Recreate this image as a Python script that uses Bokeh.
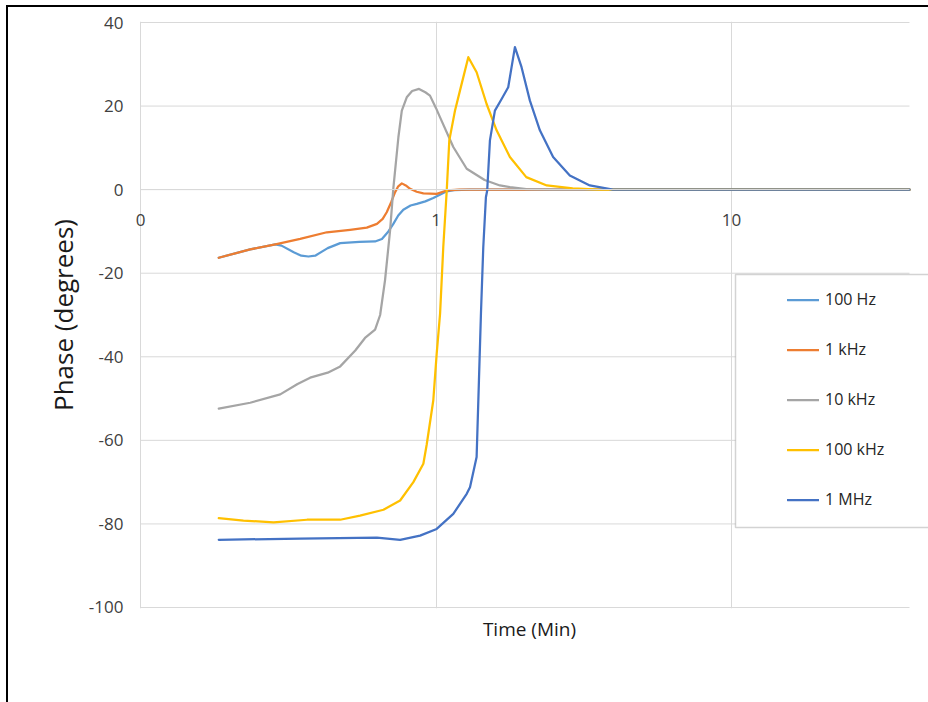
from bokeh.plotting import figure
from bokeh.models import Range1d, FixedTicker, LogAxis, Legend, LegendItem, BoxAnnotation
from bokeh.embed import file_html
from bokeh.resources import INLINE

# ---------------- data ----------------
series_names = ["100 Hz", "1 kHz", "10 kHz", "100 kHz", "1 MHz"]
series_colors = ["#5B9BD5", "#ED7D31", "#A5A5A5", "#FFC000", "#4472C4"]

x_100hz = [0.184, 0.235, 0.286, 0.30, 0.33, 0.35, 0.37, 0.39, 0.43, 0.474, 0.55, 0.622, 0.656,
           0.69, 0.717, 0.745, 0.775, 0.82, 0.861, 0.92, 0.979, 1.03, 1.087, 1.15, 1.3, 2.0, 5.0, 40]
y_100hz = [-16.3, -14.3, -13.1, -13.4, -15.0, -15.8, -16.0, -15.8, -14.0, -12.8, -12.5, -12.4, -11.8,
           -10.0, -8.2, -6.2, -4.8, -3.8, -3.4, -2.8, -2.0, -1.2, -0.4, -0.1, 0, 0, 0, 0]

x_1khz = [0.184, 0.235, 0.286, 0.347, 0.427, 0.512, 0.583, 0.631, 0.660, 0.681, 0.705, 0.727,
          0.745, 0.766, 0.79, 0.817, 0.86, 0.906, 1.005, 1.087, 1.2, 2.0, 5.0, 40]
y_1khz = [-16.3, -14.3, -13.1, -11.8, -10.2, -9.6, -9.1, -8.2, -7.0, -5.4, -3.0, -0.6,
          0.8, 1.5, 1.0, 0.2, -0.5, -0.9, -1.0, -0.2, 0, 0, 0, 0]

x_10khz = [0.184, 0.235, 0.297, 0.34, 0.375, 0.43, 0.474, 0.533, 0.575, 0.622, 0.647, 0.672,
           0.699, 0.717, 0.746, 0.766, 0.796, 0.83, 0.876, 0.92, 0.954, 1.0, 1.032, 1.144, 1.27,
           1.46, 1.645, 1.78, 2.02, 2.5, 5.0, 40]
y_10khz = [-52.4, -51.0, -49.0, -46.5, -45.0, -43.8, -42.3, -38.5, -35.5, -33.5, -30.0, -21.7,
           -9.8, 0.3, 12.6, 18.9, 22.1, 23.6, 24.1, 23.3, 22.5, 19.5, 17.3, 10.2, 5.0,
           2.3, 1.0, 0.6, 0.1, 0, 0, 0]

x_100khz = [0.184, 0.223, 0.282, 0.366, 0.474, 0.553, 0.664, 0.756, 0.838, 0.906, 0.930, 0.979,
            1.005, 1.032, 1.058, 1.087, 1.109, 1.159, 1.205, 1.286, 1.372, 1.483, 1.603, 1.778,
            2.02, 2.37, 2.9, 3.58, 5.0, 40]
y_100khz = [-78.6, -79.2, -79.6, -79.0, -79.0, -78.0, -76.6, -74.4, -70.0, -65.6, -61.0, -50.4,
            -39.3, -29.7, -13.8, -0.2, 11.8, 18.9, 23.7, 31.7, 28.1, 20.5, 14.2, 7.8,
            3.0, 1.0, 0.3, 0, 0, 0]

x_1mhz = [0.184, 0.347, 0.631, 0.756, 0.883, 1.005, 1.144, 1.27, 1.303, 1.372, 1.397, 1.419,
          1.445, 1.475, 1.49, 1.522, 1.582, 1.667, 1.755, 1.849, 1.947, 2.078, 2.246, 2.49,
          2.836, 3.314, 3.97, 5.0, 40]
y_1mhz = [-83.8, -83.5, -83.3, -83.8, -82.8, -81.2, -77.6, -72.8, -71.2, -64.0, -45.7, -29.7,
          -13.8, -1.8, -0.2, 11.8, 18.9, 21.7, 24.5, 34.1, 29.3, 21.3, 14.2, 7.8,
          3.4, 1.0, 0, 0, 0]

series_x = [x_100hz, x_1khz, x_10khz, x_100khz, x_1mhz]
series_y = [y_100hz, y_1khz, y_10khz, y_100khz, y_1mhz]

x_axis_min = 0.1
x_axis_max = 40
x_ticks = [0.1, 1, 10]
x_tick_labels = ["0", "1", "10"]
y_ticks = [-100, -80, -60, -40, -20, 0, 20, 40]
y_tick_labels = ["-100", "-80", "-60", "-40", "-20", "0", "20", "40"]

x_title = "Time (Min)"
y_title = "Phase (degrees)"

# ---------------- figure ----------------
FONT = "Open Sans"
GRID = "#d9d9d9"
TICK_COLOR = "#404040"
TITLE_COLOR = "#1a1a1a"

# view slightly wider than the axis so that the "0" label and the legend box are not clipped
p = figure(frame_width=798, frame_height=587,
           x_axis_type="log", x_range=Range1d(0.0925, 46.39), y_range=Range1d(-100.24, 40.24),
           min_border_left=122, min_border_right=0, min_border_top=14, min_border_bottom=94,
           output_backend="svg", toolbar_location=None)
p.outline_line_color = None
p.background_fill_color = "white"
p.border_fill_color = "white"
p.styles = {"margin-top": "5px", "margin-left": "6px",
            "border-top": "2px solid #000000", "border-left": "2px solid #000000"}

# title axis (bottom) - carries only the axis title, centred on the axis extent
xa = p.xaxis[0]
xa.ticker = FixedTicker(ticks=[])
xa.bounds = (x_axis_min, x_axis_max)
xa.major_tick_line_color = None
xa.minor_tick_line_color = None
xa.axis_line_color = None
xa.major_label_standoff = 0
xa.axis_label = x_title
xa.axis_label_text_font = FONT
xa.axis_label_text_font_size = "19px"
xa.axis_label_text_font_style = "normal"
xa.axis_label_text_color = TITLE_COLOR
xa.axis_label_standoff = 7

# y axis
ya = p.yaxis[0]
ya.ticker = FixedTicker(ticks=y_ticks)
ya.major_label_overrides = dict(zip(y_ticks, y_tick_labels))
ya.major_tick_line_color = None
ya.minor_tick_line_color = None
ya.axis_line_color = None
ya.major_label_standoff = 1
ya.major_label_text_font = FONT
ya.major_label_text_font_size = "17px"
ya.major_label_text_color = TICK_COLOR
ya.axis_label = y_title
ya.axis_label_text_font = FONT
ya.axis_label_text_font_size = "26px"
ya.axis_label_text_font_style = "normal"
ya.axis_label_text_color = TITLE_COLOR
ya.axis_label_standoff = 5

# x axis crossing at y = 0
zero_axis = LogAxis(fixed_location=0, ticker=FixedTicker(ticks=x_ticks),
                    bounds=(x_axis_min, x_axis_max),
                    major_label_overrides=dict(zip(x_ticks, x_tick_labels)))
zero_axis.axis_line_color = GRID
zero_axis.major_tick_line_color = None
zero_axis.minor_tick_line_color = None
zero_axis.major_label_standoff = 18
zero_axis.major_label_text_font = FONT
zero_axis.major_label_text_font_size = "17px"
zero_axis.major_label_text_color = TICK_COLOR
p.add_layout(zero_axis, "below")

# grids: vertical via Grid, horizontal drawn only across the axis extent
p.xgrid.ticker = FixedTicker(ticks=x_ticks)
p.xgrid.grid_line_color = GRID
p.xgrid.grid_line_width = 1
p.ygrid.visible = False
p.segment(x0=[x_axis_min] * len(y_ticks), x1=[x_axis_max] * len(y_ticks),
          y0=y_ticks, y1=y_ticks, line_color=GRID, line_width=1, level="underlay")

# lines
renderers = []
for xs, ys, c in zip(series_x, series_y, series_colors):
    r = p.line(xs, ys, line_color=c, line_width=2.25, line_join="round", line_cap="round")
    renderers.append(r)

# legend frame (white box with gray border), canvas pixels
legend_box = BoxAnnotation(left=725, right=2000, top=265, bottom=518,
                           left_units="canvas", right_units="canvas",
                           top_units="canvas", bottom_units="canvas",
                           fill_color="white", fill_alpha=1.0,
                           line_color="#6e6e6e", line_width=1.5, level="annotation")
p.add_layout(legend_box)

legend = Legend(items=[LegendItem(label=n, renderers=[r]) for n, r in zip(series_names, renderers)],
                location=(657, 98), orientation="vertical",
                border_line_color=None, background_fill_alpha=0.0,
                padding=10, spacing=28, margin=0,
                glyph_width=32, glyph_height=21, label_height=21, label_standoff=6,
                label_text_font=FONT, label_text_font_size="16px", label_text_color="#262626")
p.add_layout(legend)

open("out.html", "w").write(file_html(p, INLINE))
